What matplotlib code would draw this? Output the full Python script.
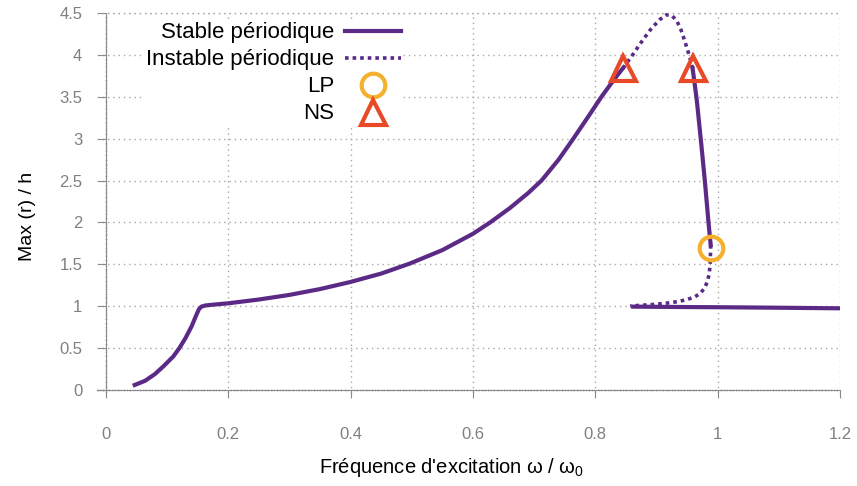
import matplotlib
matplotlib.use("Agg")
import matplotlib.pyplot as plt
from matplotlib.ticker import MultipleLocator

plt.rcParams["font.family"] = ["Liberation Sans", "DejaVu Sans"]
plt.rcParams["mathtext.fontset"] = "custom"
plt.rcParams["mathtext.rm"] = "Liberation Sans"
plt.rcParams["mathtext.it"] = "Liberation Sans"

# branches
stable1_x = [0.047, 0.064, 0.08, 0.095, 0.110, 0.12, 0.13, 0.14, 0.148, 0.152, 0.156,
             0.162, 0.17, 0.2, 0.25, 0.3, 0.35, 0.4, 0.45, 0.497, 0.55, 0.6, 0.628,
             0.66, 0.69, 0.712, 0.74, 0.764, 0.79, 0.81, 0.83, 0.845]
stable1_y = [0.06, 0.11, 0.19, 0.29, 0.40, 0.50, 0.62, 0.76, 0.90, 0.965, 0.995,
             1.008, 1.015, 1.035, 1.08, 1.135, 1.205, 1.29, 1.39, 1.51, 1.67, 1.865, 2.0,
             2.17, 2.35, 2.5, 2.75, 3.0, 3.28, 3.5, 3.70, 3.84]

unstable1_x = [0.845, 0.86, 0.875, 0.89, 0.905, 0.9166, 0.925, 0.933, 0.94, 0.946,
               0.952, 0.956, 0.959]
unstable1_y = [3.84, 3.99, 4.15, 4.30, 4.42, 4.48, 4.47, 4.41, 4.30, 4.17,
               4.03, 3.93, 3.84]

stable2_x = [0.959, 0.9625, 0.966, 0.9695, 0.973, 0.979, 0.985, 0.9886]
stable2_y = [3.84, 3.65, 3.45, 3.2, 2.95, 2.5, 2.0, 1.73]

unstable2_x = [0.9886, 0.9878, 0.986, 0.983, 0.978, 0.971, 0.962, 0.95, 0.935, 0.915,
               0.89, 0.857]
unstable2_y = [1.73, 1.5, 1.38, 1.29, 1.21, 1.15, 1.11, 1.08, 1.055, 1.035,
               1.018, 1.003]

stable3_x = [0.862, 0.95, 1.0, 1.1, 1.2]
stable3_y = [0.995, 0.99, 0.988, 0.982, 0.975]

lp_x = [0.989]
lp_y = [1.70]
ns_x = [0.845, 0.959]
ns_y = [3.84, 3.84]

x_ticks = [0, 0.2, 0.4, 0.6, 0.8, 1.0, 1.2]
x_labels = ["0", "0.2", "0.4", "0.6", "0.8", "1", "1.2"]
y_ticks = [0, 0.5, 1, 1.5, 2, 2.5, 3, 3.5, 4, 4.5]
y_labels = ["0", "0.5", "1", "1.5", "2", "2.5", "3", "3.5", "4", "4.5"]

purple = "#5b2a86"
gray = "#8a8a8a"
grid_style = dict(color="#a8a8a8", linestyle=(0, (1, 2.8)), lw=1.0)

fig = plt.figure(figsize=(8.57, 4.86), dpi=100)
ax = fig.add_axes([0.11295, 0.19064, 0.86722, 0.78261])

ax.set_xlim(-0.015, 1.2)
ax.set_ylim(-0.04, 4.5)

dotted = (0, (1, 1.1))
ax.plot(stable1_x, stable1_y, color=purple, lw=3, solid_joinstyle="round",
        label="Stable périodique", zorder=3)
ax.plot(unstable1_x, unstable1_y, color=purple, lw=2.6, linestyle=dotted,
        label="Instable périodique", zorder=3)
ax.plot(stable2_x, stable2_y, color=purple, lw=3, solid_joinstyle="round", zorder=3)
ax.plot(unstable2_x, unstable2_y, color=purple, lw=2.6, linestyle=dotted, zorder=3)
ax.plot(stable3_x, stable3_y, color=purple, lw=3, zorder=3)

ax.plot(lp_x, lp_y, linestyle="none", marker="o", ms=17, mfc="none",
        mec="#f5b02e", mew=3, label="LP", zorder=4)
ax.plot(ns_x, ns_y, linestyle="none", marker="^", ms=18, mfc="none",
        mec="#e84a27", mew=3, label="NS", zorder=4)

ax.set_xticks(x_ticks)
ax.set_xticklabels(x_labels)
ax.set_yticks(y_ticks)
ax.set_yticklabels(y_labels)
ax.xaxis.set_minor_locator(MultipleLocator(0.005))
ax.yaxis.set_minor_locator(MultipleLocator(0.05))

ax.grid(True, which="major", zorder=1, **grid_style)
# top grid line stays visible above the legend box
ax.axhline(y_ticks[-1], zorder=6, clip_on=False, **grid_style)

for side in ["top", "right"]:
    ax.spines[side].set_visible(False)
ax.spines["left"].set_position(("data", 0))
ax.spines["bottom"].set_position(("data", 0))
for side in ["left", "bottom"]:
    ax.spines[side].set_color(gray)
    ax.spines[side].set_linewidth(0.8)

ax.tick_params(axis="x", which="major", direction="out", length=6, width=0.8,
               color=gray, labelcolor="#808080", labelsize=12, pad=21)
ax.tick_params(axis="y", which="major", direction="out", length=6, width=0.8,
               color=gray, labelcolor="#808080", labelsize=12, pad=11)
ax.tick_params(which="minor", direction="inout", length=2, width=0.5, color="#b0b0b0")

ax.set_xlabel(r"Fréquence d'excitation ω / ω$_0$", fontsize=14.5, va="center")
ax.xaxis.set_label_coords((452 - 96.8) / (840 - 96.8), -(468 - 393.35) / (393.35 - 13))
ax.set_ylabel("Max (r) / h", fontsize=14)
ax.yaxis.set_label_coords(-(96.8 - 36) / (840 - 96.8), (393.35 - 216) / (393.35 - 13))

leg = ax.legend(loc="upper right", bbox_to_anchor=(414 / 857, 1 - 9 / 486),
                bbox_transform=fig.transFigure, markerfirst=False, numpoints=1,
                frameon=True, fancybox=False, fontsize=16, handlelength=2.5,
                labelspacing=0.27, borderpad=0.1, handletextpad=0.5)
leg.get_frame().set_edgecolor("none")
leg.get_frame().set_facecolor("white")
leg.get_frame().set_alpha(1.0)
leg.set_zorder(5)

fig.savefig("out.png", dpi=100)
